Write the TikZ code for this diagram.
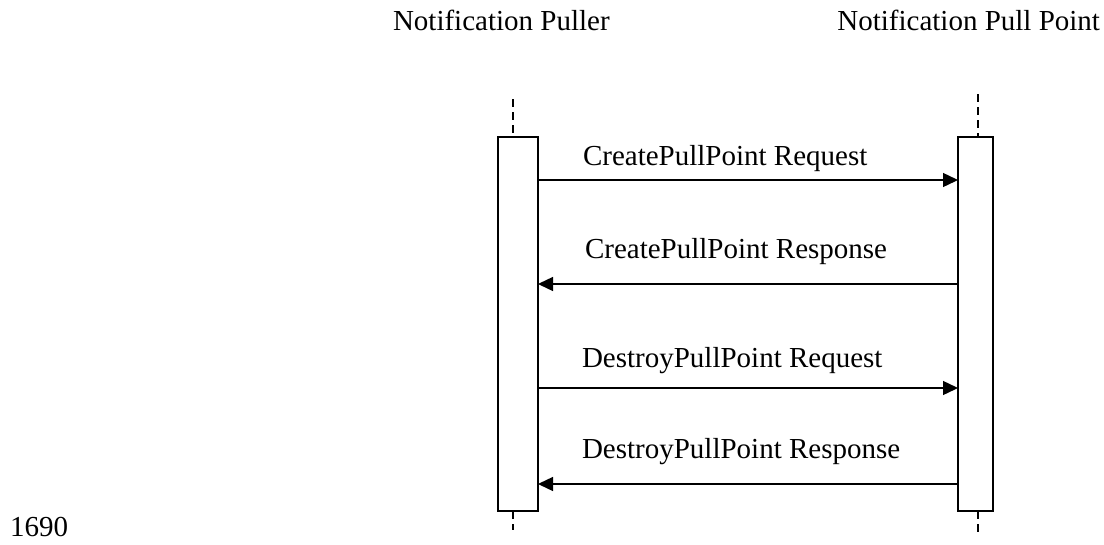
\documentclass[tikz,border=0pt]{standalone}
\usepackage{fontspec}
\setmainfont{Liberation Serif}
\usetikzlibrary{arrows.meta}
\tikzset{
  txt/.style={font=\fontsize{29}{34}\selectfont, inner sep=0pt, outer sep=0pt},
  lifebox/.style={draw=black, line width=1.5pt, fill=white, inner sep=0pt, outer sep=0pt},
  lifeline/.style={draw=black, line width=1.4pt, dash pattern=on 8pt off 5pt},
  msg/.style={draw=black, line width=1.4pt, -{Triangle[length=15pt,width=14pt]}}
}
\begin{document}
\begin{tikzpicture}[x=1pt,y=-1pt]
\useasboundingbox (0,0) rectangle (1104,544);
% headers
\node[txt, anchor=base west] (hL) at (393,30) {Notification Puller};
\node[txt, anchor=base east] (hR) at (1100,30) {Notification Pull Point};
% lifeline dashes
\coordinate (Ltop) at (513,99);
\coordinate (Lbot) at (513,530);
\coordinate (Rtop) at (978,94);
\coordinate (Rbot) at (978,535);
% activation boxes
\node[lifebox, minimum width=40pt, minimum height=374pt] (L) at (518,324) {};
\node[lifebox, minimum width=35pt, minimum height=374pt] (R) at (975.5,324) {};
\draw[lifeline] (Ltop) -- (Ltop |- L.north);
\draw[lifeline] (Ltop |- L.south) -- (Lbot);
\draw[lifeline] (Rtop) -- (Rtop |- R.north);
\draw[lifeline] (Rtop |- R.south) -- (Rbot);
% message levels
\coordinate (m1) at (0,180);
\coordinate (m2) at (0,284);
\coordinate (m3) at (0,388);
\coordinate (m4) at (0,484);
\draw[msg] (L.east |- m1) -- (R.west |- m1);
\draw[msg] (R.west |- m2) -- (L.east |- m2);
\draw[msg] (L.east |- m3) -- (R.west |- m3);
\draw[msg] (R.west |- m4) -- (L.east |- m4);
% labels
\node[txt, anchor=base west] (t1) at (583,165) {CreatePullPoint Request};
\node[txt, anchor=base west] (t2) at (585,258) {CreatePullPoint Response};
\node[txt, anchor=base west] (t3) at (582,367) {DestroyPullPoint Request};
\node[txt, anchor=base west] (t4) at (582,458) {DestroyPullPoint Response};
% line number
\node[txt, anchor=base west] (num) at (10,536) {1690};
\end{tikzpicture}
\end{document}
